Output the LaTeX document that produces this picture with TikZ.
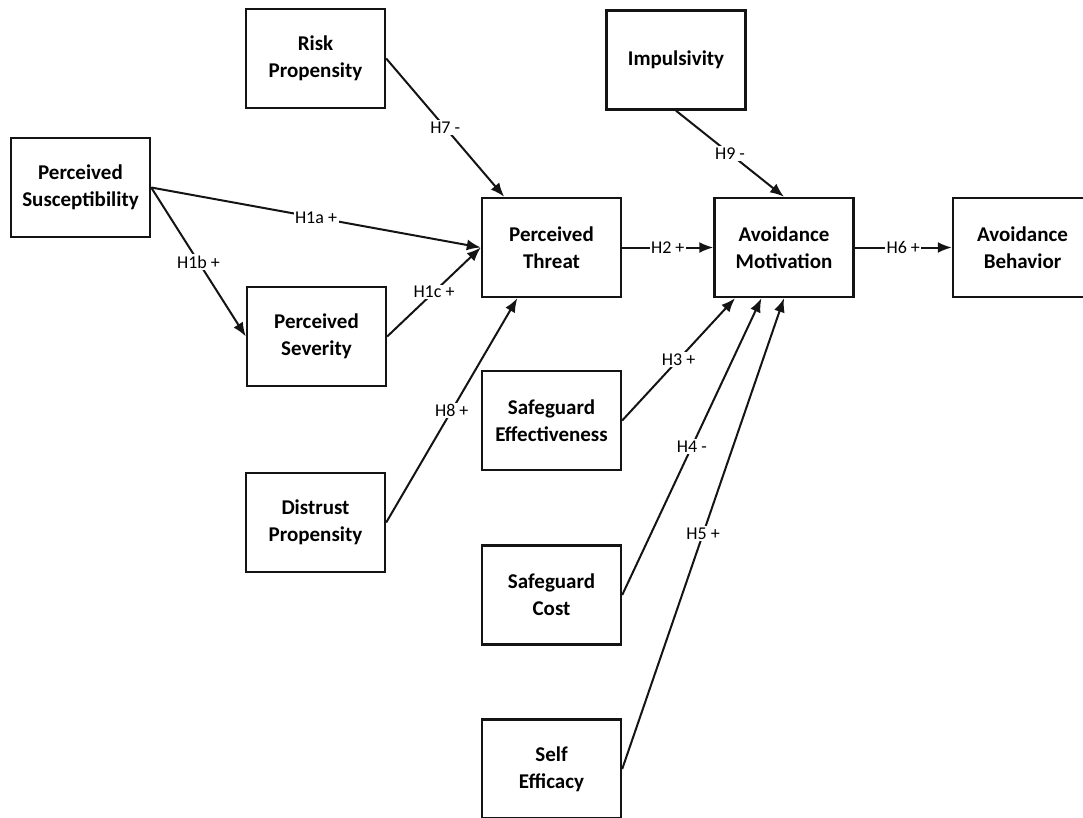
\documentclass[tikz,border=0pt]{standalone}
\usepackage{fontspec}
\setmainfont{Carlito}
\usetikzlibrary{arrows.meta,calc}
\definecolor{BoxClr}{rgb}{0.08,0.08,0.08}

\begin{document}
\begin{tikzpicture}[x=1pt,y=-1pt,
  construct/.style={draw=BoxClr,line width=2.4pt,minimum width=139pt,minimum height=99pt,
    inner sep=0pt,align=center,font=\fontsize{21}{27}\selectfont\bfseries},
  path/.style={draw=BoxClr,line width=2pt,-{Latex[length=14pt,width=11pt]}},
  hyp/.style={fill=white,inner sep=1.5pt,font=\fontsize{18}{20}\selectfont,midway}]
\useasboundingbox (0,0) rectangle (1083,818);

% constructs
\node[construct] (risk)     at (315.5,58.5)  {Risk\\Propensity};
\node[construct] (susc)     at (80.5,187.5)  {Perceived\\Susceptibility};
\node[construct] (severity) at (316.5,336.5) {Perceived\\Severity};
\node[construct] (distrust) at (315.5,522.5) {Distrust\\Propensity};
\node[construct] (threat)   at (551.5,247.5) {Perceived\\Threat};
\node[construct] (safeEff)  at (551.5,420.5) {Safeguard\\Effectiveness};
\node[construct] (safeCost) at (551.5,595)   {Safeguard\\Cost};
\node[construct] (selfEff)  at (551.5,769)   {Self\\Efficacy};
\node[construct] (impuls)   at (676,60)      {Impulsivity};
\node[construct] (motiv)    at (784,247.5)   {Avoidance\\Motivation};
\node[construct] (behav)    at (1022.5,247.5){Avoidance\\Behavior};

% hypotheses
\draw[path] (susc.east) -- node[hyp]{H1a +} (threat.west);
\draw[path] (susc.east) -- node[hyp]{H1b +} (severity.west);
\draw[path] (severity.east) -- node[hyp]{H1c +} (threat.west);
\draw[path] (risk.east) -- node[hyp]{H7 -} (threat.133);
\draw[path] (distrust.east) -- node[hyp]{H8 +} (threat.236);
\draw[path] (threat.east) -- node[hyp]{H2 +} (motiv.west);
\draw[path] (impuls.south) -- node[hyp]{H9 -} (motiv.north);
\draw[path] (safeEff.east) -- node[hyp]{H3 +} (motiv.226);
\draw[path] (safeCost.east) -- node[hyp]{H4 -} (motiv.246);
\draw[path] (selfEff.east) -- node[hyp]{H5 +} (motiv.south);
\draw[path] (motiv.east) -- node[hyp]{H6 +} (behav.west);

\end{tikzpicture}
\end{document}
